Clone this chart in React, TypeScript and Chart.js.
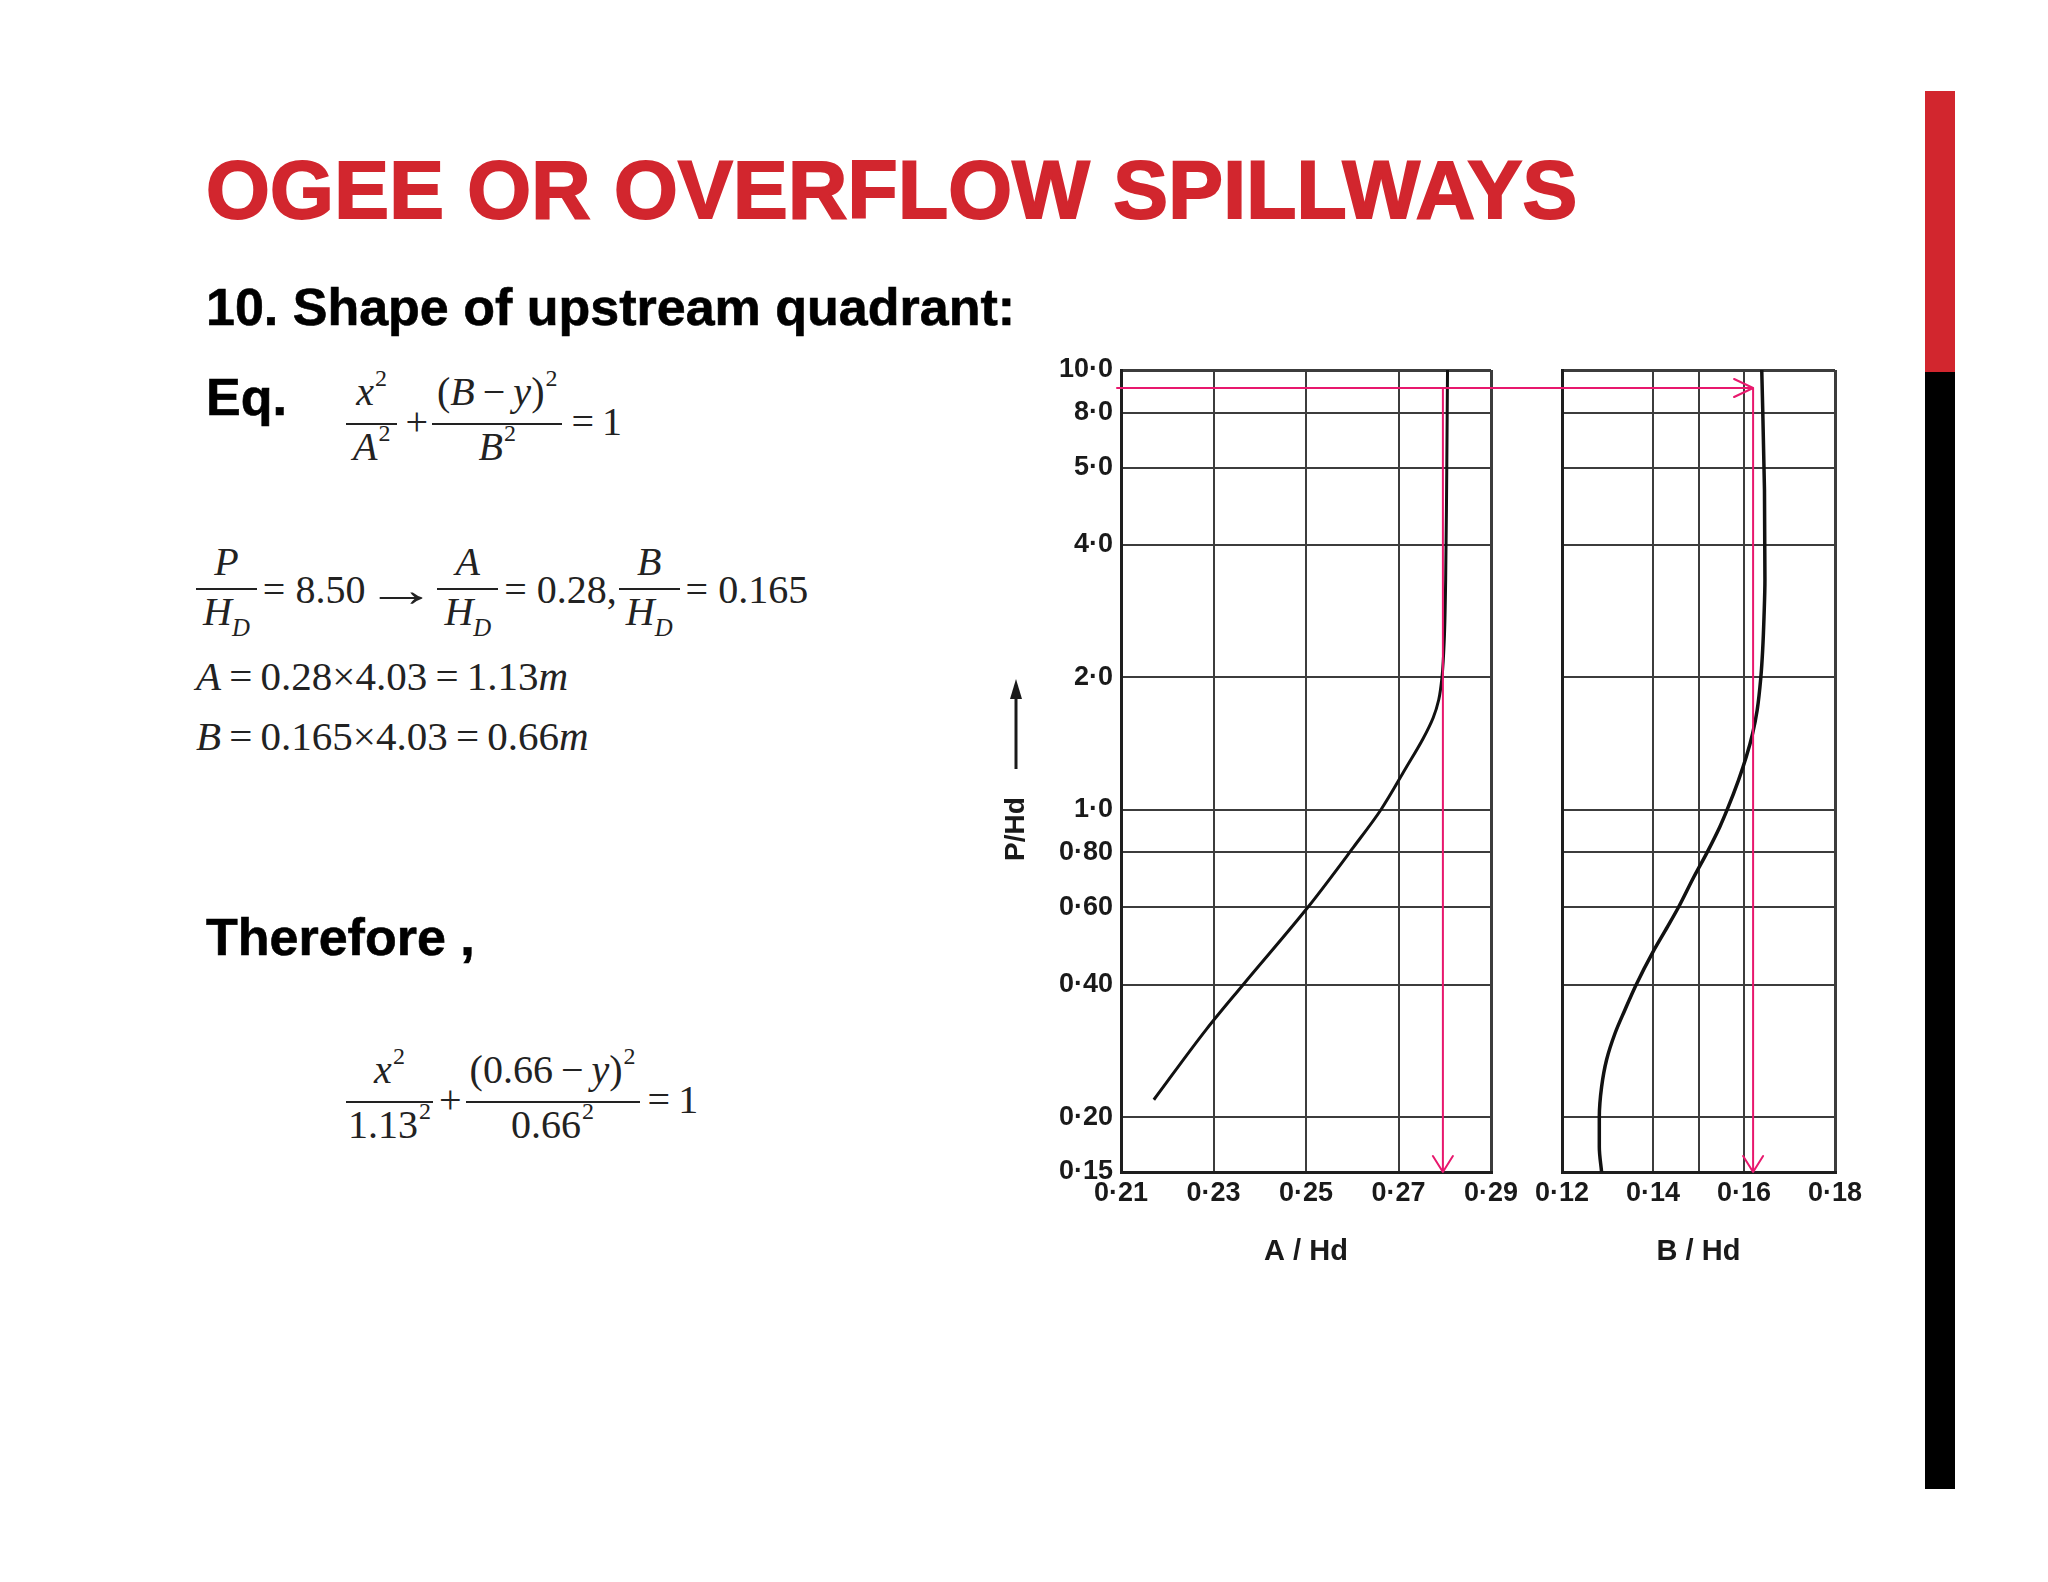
import React, { useEffect, useRef } from 'react';
import { Chart, registerables } from 'chart.js';

Chart.register(...registerables);

// ---------------- Data ----------------
const pHdTicks = [0.15, 0.2, 0.4, 0.6, 0.8, 1, 2, 4, 6, 8, 10];
const pHdTickLabels = ['0·15', '0·20', '0·40', '0·60', '0·80', '1·0', '2·0', '4·0', '5·0', '8·0', '10·0'];

const aHdTicks = [0.21, 0.23, 0.25, 0.27, 0.29];
const aHdTickLabels = ['0·21', '0·23', '0·25', '0·27', '0·29'];

const bHdTicks = [0.12, 0.14, 0.15, 0.16, 0.18];
const bHdTickLabels = ['0·12', '0·14', '', '0·16', '0·18'];

const curveA_pHd = [0.219, 0.317, 0.4, 0.6, 0.82, 1.0, 1.239, 1.45, 1.619, 1.779, 2.0, 2.434, 3.34, 5.34, 10.0];
const curveA_aHd = [0.2171, 0.2285, 0.2364, 0.2504, 0.2602, 0.2662, 0.2715, 0.2753, 0.2775, 0.2787, 0.2794, 0.2799, 0.2802, 0.2804, 0.2806];

const curveB_pHd = [0.15, 0.171, 0.2, 0.234, 0.27, 0.311, 0.35, 0.4, 0.475, 0.542, 0.6, 0.704, 0.8, 0.915, 1.0, 1.168, 1.319, 1.492, 1.686, 2.0, 2.307, 2.748, 3.34, 5.34, 10.0];
const curveB_bHd = [0.1287, 0.1282, 0.1282, 0.1287, 0.1298, 0.1317, 0.1338, 0.1363, 0.14, 0.1432, 0.1456, 0.149, 0.1519, 0.1547, 0.1563, 0.1588, 0.1605, 0.1619, 0.1629, 0.1637, 0.1641, 0.1644, 0.1646, 0.1645, 0.1639];

const readoutPHd = 9.1;
const readoutAHd = 0.2796;
const readoutBHd = 0.162;

// ---------------- Styles ----------------
const PINK = '#e8186d';
const GRID = '#3c3c3c';
const FRAME = '#1e1e1e';
const INK = '#1a1a1a';
const RED = '#d2262e';
const TICK_FONT = { family: "'Liberation Sans', Arial, sans-serif", size: 27, weight: 'bold' as const };
const TITLE_FONT = { family: "'Liberation Sans', Arial, sans-serif", size: 29, weight: 'bold' as const };

function labelFor(values: number[], labels: string[], v: number) {
  const i = values.findIndex((t) => Math.abs(t - v) < 1e-9);
  return i >= 0 ? labels[i] : '';
}

type PanelProps = {
  panel: 'A' | 'B';
  width: number;
  height: number;
  left: number;
  top: number;
};

function Panel({ panel, width, height, left, top }: PanelProps) {
  const ref = useRef<HTMLCanvasElement | null>(null);

  useEffect(() => {
    const canvas = ref.current;
    if (!canvas) return;
    const isA = panel === 'A';
    const xTicks = isA ? aHdTicks : bHdTicks;
    const xLabels = isA ? aHdTickLabels : bHdTickLabels;
    const curveY = isA ? curveA_pHd : curveB_pHd;
    const curveX = isA ? curveA_aHd : curveB_bHd;
    const readoutX = isA ? readoutAHd : readoutBHd;
    const xMin = xTicks[0];
    const xMax = xTicks[xTicks.length - 1];

    const readoutPlugin = {
      id: 'readout' + panel,
      afterDatasetsDraw(chart: any) {
        const { ctx, chartArea } = chart;
        const xs = chart.scales.x;
        const ys = chart.scales.y;
        const yP = ys.getPixelForValue(readoutPHd);
        const xR = xs.getPixelForValue(readoutX);
        ctx.save();
        ctx.strokeStyle = PINK;
        ctx.lineWidth = 2;
        ctx.lineCap = 'round';
        ctx.lineJoin = 'round';
        ctx.beginPath();
        if (isA) {
          ctx.moveTo(chartArea.left - 4, yP);
          ctx.lineTo(chart.width, yP);
        } else {
          ctx.moveTo(0, yP);
          ctx.lineTo(xR, yP);
          ctx.moveTo(xR - 19, yP - 9);
          ctx.lineTo(xR, yP);
          ctx.lineTo(xR - 19, yP + 9);
        }
        ctx.moveTo(xR, yP);
        ctx.lineTo(xR, chartArea.bottom);
        ctx.moveTo(xR - 10, chartArea.bottom - 16);
        ctx.lineTo(xR, chartArea.bottom);
        ctx.lineTo(xR + 10, chartArea.bottom - 16);
        ctx.stroke();
        ctx.restore();
      },
      afterDraw(chart: any) {
        if (!isA) return;
        const { ctx, chartArea } = chart;
        const cx = chartArea.left - 105;
        const cy = chartArea.top + 459;
        ctx.save();
        ctx.fillStyle = INK;
        ctx.font = "bold 28px 'Liberation Sans', Arial, sans-serif";
        ctx.translate(cx, cy);
        ctx.rotate(-Math.PI / 2);
        ctx.textAlign = 'center';
        ctx.textBaseline = 'middle';
        ctx.fillText('P/Hd', 0, 0);
        ctx.restore();
        ctx.save();
        ctx.strokeStyle = INK;
        ctx.fillStyle = INK;
        ctx.lineWidth = 3;
        ctx.beginPath();
        ctx.moveTo(cx, cy - 60);
        ctx.lineTo(cx, cy - 134);
        ctx.stroke();
        ctx.beginPath();
        ctx.moveTo(cx, cy - 150);
        ctx.lineTo(cx - 6, cy - 130);
        ctx.lineTo(cx + 6, cy - 130);
        ctx.closePath();
        ctx.fill();
        ctx.restore();
      },
    };

    const gridWidth = (ctx: any, lo: number, hi: number) => {
      const v = ctx.tick ? ctx.tick.value : NaN;
      return Math.abs(v - lo) < 1e-9 || Math.abs(v - hi) < 1e-9 ? 3 : 2;
    };

    const chart = new Chart(canvas, {
      type: 'scatter',
      data: {
        datasets: [
          {
            data: curveY.map((p, i) => ({ x: curveX[i], y: p })),
            indexAxis: 'y',
            showLine: true,
            borderColor: '#111',
            backgroundColor: '#111',
            borderWidth: isA ? 3 : 3.5,
            pointRadius: 0,
            cubicInterpolationMode: 'monotone',
            fill: false,
          },
        ],
      },
      options: {
        indexAxis: 'y',
        responsive: false,
        animation: false,
        devicePixelRatio: 1,
        events: [],
        layout: {
          padding: isA
            ? { top: 40, right: 36, bottom: 0, left: 0 }
            : { top: 40, right: 65, bottom: 0, left: 35 },
        },
        plugins: { legend: { display: false }, tooltip: { enabled: false } },
        scales: {
          x: {
            type: 'linear',
            position: 'bottom',
            min: xMin,
            max: xMax,
            afterBuildTicks: (s: any) => {
              s.ticks = xTicks.map((v) => ({ value: v }));
            },
            afterFit: (s: any) => {
              s.height = 118;
            },
            ticks: {
              autoSkip: false,
              maxRotation: 0,
              padding: 5,
              color: INK,
              font: TICK_FONT,
              callback: (v: any) => labelFor(xTicks, xLabels, Number(v)),
            },
            grid: {
              color: GRID,
              lineWidth: (c: any) => gridWidth(c, xMin, xMax),
              drawTicks: false,
            },
            border: { display: true, color: FRAME, width: 3 },
            title: {
              display: true,
              text: isA ? 'A / Hd' : 'B / Hd',
              color: INK,
              font: TITLE_FONT,
              padding: { top: 0, bottom: 21 },
            },
          },
          y: {
            type: 'logarithmic',
            position: 'left',
            min: 0.15,
            max: 10,
            afterBuildTicks: (s: any) => {
              s.ticks = pHdTicks.map((v) => ({ value: v }));
            },
            afterFit: (s: any) => {
              s.width = isA ? 121 : 0;
            },
            ticks: {
              display: isA,
              autoSkip: false,
              padding: 8,
              color: INK,
              font: TICK_FONT,
              callback: (v: any) => labelFor(pHdTicks, pHdTickLabels, Number(v)),
            },
            grid: {
              color: GRID,
              lineWidth: (c: any) => gridWidth(c, 0.15, 10),
              drawTicks: false,
            },
            border: { display: true, color: FRAME, width: 3 },
          },
        },
      },
      plugins: [readoutPlugin],
    } as any);

    return () => chart.destroy();
  }, [panel]);

  return (
    <canvas
      ref={ref}
      width={width}
      height={height}
      style={{ position: 'absolute', left, top, width, height }}
    />
  );
}

// ---------------- Math helpers ----------------
const SERIF = "'Liberation Serif', 'Times New Roman', serif";
const SANS = "'Liberation Sans', Arial, Helvetica, sans-serif";
const SP = '\u2005';

const It = ({ children }: { children: React.ReactNode }) => (
  <span style={{ fontStyle: 'italic' }}>{children}</span>
);
const Sup = ({ children }: { children: React.ReactNode }) => (
  <span style={{ fontSize: '0.6em', position: 'relative', top: '-0.8em', marginLeft: 1 }}>{children}</span>
);
const Sub = ({ children }: { children: React.ReactNode }) => (
  <span style={{ fontSize: '0.62em', position: 'relative', top: '0.45em', fontStyle: 'italic' }}>{children}</span>
);

function Frac({ num, den, size, pad = 6 }: { num: React.ReactNode; den: React.ReactNode; size: number; pad?: number }) {
  const lh = Math.round(size * 1.1);
  return (
    <span style={{ display: 'inline-flex', flexDirection: 'column', alignItems: 'center' }}>
      <span style={{ lineHeight: lh + 'px', paddingBottom: 4, paddingLeft: pad, paddingRight: pad }}>{num}</span>
      <span style={{ alignSelf: 'stretch', height: 2, background: '#222' }} />
      <span style={{ lineHeight: lh + 'px', paddingLeft: pad, paddingRight: pad }}>{den}</span>
    </span>
  );
}

function MathRow({ left, barY, size, children }: { left: number; barY: number; size: number; children: React.ReactNode }) {
  const lh = Math.round(size * 1.1);
  return (
    <div
      style={{
        position: 'absolute',
        left,
        top: barY - (lh + 4 + 1),
        display: 'flex',
        alignItems: 'center',
        fontFamily: SERIF,
        fontSize: size,
        color: '#222',
        whiteSpace: 'nowrap',
        lineHeight: lh + 'px',
      }}
    >
      {children}
    </div>
  );
}

const T = ({ children, l = 4, r = 4 }: { children: React.ReactNode; l?: number; r?: number }) => (
  <span style={{ paddingLeft: l, paddingRight: r }}>{children}</span>
);

const Arrow = () => (
  <span style={{ display: 'inline-block', transform: 'scale(1.8, 1.2)', margin: '0 16px 0 16px' }}>→</span>
);

const bodyText = (baseline: number, size: number): React.CSSProperties => ({
  position: 'absolute',
  left: 206,
  top: baseline - size * 0.8465,
  fontFamily: SANS,
  fontWeight: 'bold',
  fontSize: size,
  lineHeight: 1,
  color: '#000',
  whiteSpace: 'nowrap',
});

const serifLine = (left: number, baseline: number, size: number): React.CSSProperties => ({
  position: 'absolute',
  left,
  top: baseline - size * 0.8375,
  fontFamily: SERIF,
  fontSize: size,
  lineHeight: 1,
  color: '#222',
  whiteSpace: 'nowrap',
});

export default function App() {
  const mSize = 40;
  return (
    <div
      style={{
        position: 'fixed',
        left: 0,
        top: 0,
        width: 2048,
        height: 1582,
        background: '#ffffff',
        overflow: 'hidden',
      }}
    >
      {/* Title */}
      <div
        style={{
          ...bodyText(218, 82),
          color: RED,
          letterSpacing: 0.3,
          WebkitTextStroke: `2px ${RED}`,
        }}
      >
        OGEE OR OVERFLOW SPILLWAYS
      </div>

      <div style={{ ...bodyText(325, 52), WebkitTextStroke: '0.6px #000' }}>10. Shape of upstream quadrant:</div>

      <div style={{ ...bodyText(415, 52), WebkitTextStroke: '0.6px #000' }}>Eq.</div>

      <MathRow left={346} barY={419} size={mSize}>
        <Frac size={mSize} pad={7} num={<span><It>x</It><Sup>2</Sup></span>} den={<span><It>A</It><Sup>2</Sup></span>} />
        <T l={8} r={4}>+</T>
        <Frac
          size={mSize}
          pad={5}
          num={<span>(<It>B</It>{'\u2009'}−{'\u2009'}<It>y</It>)<Sup>2</Sup></span>}
          den={<span><It>B</It><Sup>2</Sup></span>}
        />
        <T l={9} r={0}>={'\u2009'}1</T>
      </MathRow>

      <MathRow left={196} barY={589} size={mSize}>
        <Frac size={mSize} pad={7} num={<It>P</It>} den={<span><It>H</It><Sub>D</Sub></span>} />
        <T l={6} r={0}>={SP}8.50</T>
        <Arrow />
        <Frac size={mSize} pad={7} num={<It>A</It>} den={<span><It>H</It><Sub>D</Sub></span>} />
        <T l={6} r={2}>={SP}0.28,</T>
        <Frac size={mSize} pad={7} num={<It>B</It>} den={<span><It>H</It><Sub>D</Sub></span>} />
        <T l={6} r={0}>={SP}0.165</T>
      </MathRow>

      <div style={serifLine(196, 690, 41)}>
        <It>A</It>{'\u2009'}={'\u2009'}0.28×4.03{'\u2009'}={'\u2009'}1.13<It>m</It>
      </div>

      <div style={serifLine(196, 750, 41)}>
        <It>B</It>{'\u2009'}={'\u2009'}0.165×4.03{'\u2009'}={'\u2009'}0.66<It>m</It>
      </div>

      <div style={{ ...bodyText(955, 52), WebkitTextStroke: '0.6px #000' }}>Therefore ,</div>

      <MathRow left={346} barY={1097} size={mSize}>
        <Frac size={mSize} pad={2} num={<span><It>x</It><Sup>2</Sup></span>} den={<span>1.13<Sup>2</Sup></span>} />
        <T l={6} r={4}>+</T>
        <Frac
          size={mSize}
          pad={4}
          num={<span>(0.66{'\u2009'}−{'\u2009'}<It>y</It>)<Sup>2</Sup></span>}
          den={<span>0.66<Sup>2</Sup></span>}
        />
        <T l={8} r={0}>={'\u2009'}1</T>
      </MathRow>

      {/* Charts */}
      <Panel panel="A" left={1000} top={330} width={527} height={960} />
      <Panel panel="B" left={1527} top={330} width={373} height={960} />

      {/* Right-hand decorative bar */}
      <div style={{ position: 'absolute', left: 1925, top: 91, width: 30, height: 281, background: RED }} />
      <div style={{ position: 'absolute', left: 1925, top: 372, width: 30, height: 1117, background: '#000' }} />
    </div>
  );
}
